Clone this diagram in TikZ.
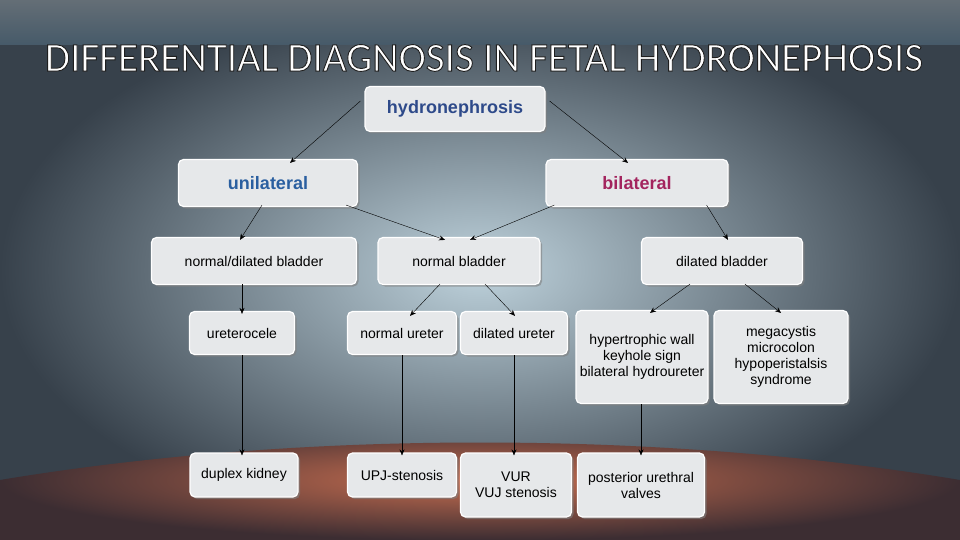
\documentclass[tikz,border=0pt]{standalone}
\usepackage{fontspec}
\setmainfont{Liberation Sans}
\newfontfamily\titlefont{Carlito}
\usetikzlibrary{arrows.meta,shadows,positioning}
\definecolor{boxfill}{HTML}{E6E8EA}
\definecolor{uniblue}{HTML}{2A5FA0}
\definecolor{bimag}{HTML}{A3245E}
\definecolor{hydblue}{HTML}{2E4A8A}
\tikzset{
    box/.style={draw=white, line width=1.2pt, rounded corners=5pt, fill=boxfill,
        drop shadow={shadow xshift=2pt, shadow yshift=-2pt, opacity=0.6},
        font=\fontsize{14}{16}\selectfont, align=center, inner sep=2pt},
    head/.style={box, font=\bfseries\fontsize{18}{20}\selectfont},
    link/.style={-{Stealth[length=6pt,width=5pt]}, thin, black},
    ttl/.style={font=\titlefont\fontsize{41}{44}\selectfont},
}
\newcommand{\outlined}[1]{\special{pdf:code 2 Tr 0.9 w 0.12 G}#1\special{pdf:code 0 Tr}}
\begin{document}
\begin{tikzpicture}[x=1pt, y=-1pt]
% background
\useasboundingbox (0,0) rectangle (960,540);
\shade[inner color={rgb,255:red,190;green,210;blue,220}, outer color={rgb,255:red,55;green,65;blue,75}]
    (0,0) rectangle (960,540);
\shade[bottom color={rgb,255:red,70;green,90;blue,105}, top color={rgb,255:red,100;green,110;blue,118}]
    (0,0) rectangle (960,45);
\begin{scope}
    \clip (0,540) -- (0,480) .. controls (300,430) and (660,430) .. (960,480) -- (960,540) -- cycle;
    \shade[inner color={rgb,255:red,200;green,110;blue,80}, outer color={rgb,255:red,60;green,45;blue,50}]
        (0,420) rectangle (960,540);
\end{scope}
% title
\node[ttl, text=white] (title) at (484,58) {\outlined{DIFFERENTIAL DIAGNOSIS IN FETAL HYDRONEPHOSIS}};
% boxes
\node[head, text=hydblue, minimum width=180pt, minimum height=45pt] (hyd) at (455,109) {hydronephrosis};
\node[head, text=uniblue, minimum width=179pt, minimum height=47pt] (uni) at (268,183) {unilateral};
\node[head, text=bimag, minimum width=182pt, minimum height=47pt] (bil) at (637,183) {bilateral};
\node[box, minimum width=205pt, minimum height=47pt] (ndb) at (254,261) {normal/dilated bladder};
\node[box, minimum width=162pt, minimum height=47pt] (nb) at (459,261) {normal bladder};
\node[box, minimum width=161pt, minimum height=47pt] (db) at (722,261) {dilated bladder};
\node[box, minimum width=105pt, minimum height=43pt] (uc) at (242,333) {ureterocele};
\node[box, minimum width=109pt, minimum height=43pt] (nu) at (402,333) {normal ureter};
\node[box, minimum width=107pt, minimum height=43pt] (du) at (514,333) {dilated ureter};
\node[box, minimum width=132pt, minimum height=93pt] (hw) at (642,357) {hypertrophic wall\\keyhole sign\\bilateral hydroureter};
\node[box, minimum width=134pt, minimum height=93pt] (mc) at (781,357) {megacystis\\microcolon\\hypoperistalsis\\syndrome};
\node[box, minimum width=108pt, minimum height=44pt] (dk) at (244,475) {duplex kidney};
\node[box, minimum width=109pt, minimum height=44pt] (upj) at (402,475) {UPJ-stenosis};
\node[box, minimum width=111pt, minimum height=64pt] (vur) at (516,485) {VUR\\VUJ stenosis};
\node[box, minimum width=127pt, minimum height=64pt] (puv) at (641,485) {posterior urethral\\valves};
% arrows
\draw[link] ([xshift=-4pt,yshift=8pt]hyd.west) -- ([xshift=22pt,yshift=-4pt]uni.north);
\draw[link] ([xshift=4pt,yshift=8pt]hyd.east) -- ([xshift=-9pt,yshift=-4pt]bil.north);
\draw[link] ([xshift=-6pt,yshift=2pt]uni.south) -- ([xshift=-14pt,yshift=-3pt]ndb.north);
\draw[link] ([xshift=-12pt,yshift=2pt]uni.south east) -- ([xshift=-14pt,yshift=-3pt]nb.north);
\draw[link] ([xshift=9pt,yshift=2pt]bil.south west) -- ([xshift=11pt,yshift=-3pt]nb.north);
\draw[link] ([xshift=-22pt,yshift=2pt]bil.south east) -- ([xshift=6pt,yshift=-3pt]db.north);
\draw[link] ([xshift=-12pt,yshift=1pt]ndb.south) -- ([yshift=-3pt]uc.north);
\draw[link] ([xshift=-19pt,yshift=1pt]nb.south) -- ([xshift=8pt,yshift=-5pt]nu.north);
\draw[link] ([xshift=26pt,yshift=1pt]nb.south) -- ([xshift=1pt,yshift=-5pt]du.north);
\draw[link] ([xshift=-32pt,yshift=1pt]db.south) -- ([xshift=8pt,yshift=-3pt]hw.north);
\draw[link] ([xshift=23pt,yshift=1pt]db.south) -- ([yshift=-3pt]mc.north);
\draw[link] (uc.south) -- ([yshift=-3pt]dk.north -| uc.south);
\draw[link] (nu.south) -- ([yshift=-3pt]upj.north);
\draw[link] (du.south) -- ([yshift=-3pt]vur.north -| du.south);
\draw[link] (hw.south -| puv.north) -- ([yshift=-3pt]puv.north);
\end{tikzpicture}
\end{document}
